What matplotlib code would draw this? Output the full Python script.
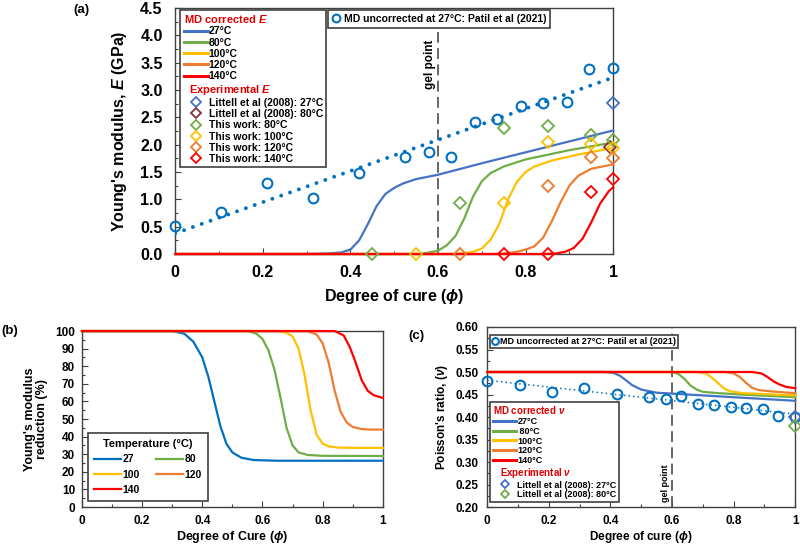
import numpy as np
import matplotlib
matplotlib.use('Agg')
import matplotlib.pyplot as plt
from matplotlib.lines import Line2D
from matplotlib.ticker import MultipleLocator, FormatStrFormatter, FuncFormatter

plt.rcParams['font.family'] = ['Liberation Sans', 'DejaVu Sans']
plt.rcParams['font.weight'] = 'bold'
plt.rcParams['axes.labelweight'] = 'bold'
plt.rcParams['mathtext.fontset'] = 'custom'
plt.rcParams['mathtext.rm'] = 'Liberation Sans:bold'
plt.rcParams['mathtext.it'] = 'Liberation Sans:italic:bold'
plt.rcParams['mathtext.bf'] = 'Liberation Sans:bold'
plt.rcParams['mathtext.bfit'] = 'Liberation Sans:italic:bold'

# ---- data ----
temps = ['27', '80', '100', '120', '140']
col_a = ['#4472C4', '#70AD47', '#FFC000', '#ED7D31', '#FF0000']
col_b = ['#0070C0', '#70AD47', '#FFC000', '#ED7D31', '#FF0000']
blue_md = '#0070C0'

# MD uncorrected (Patil et al 2021)
phi_md = [0, 0.105, 0.21, 0.315, 0.42, 0.525, 0.58, 0.63, 0.685, 0.735, 0.79, 0.84, 0.895, 0.945, 1.0]
E_md = [0.51, 0.77, 1.29, 1.02, 1.48, 1.77, 1.86, 1.77, 2.41, 2.47, 2.71, 2.77, 2.78, 3.39, 3.41]
nu_md = [0.480, 0.471, 0.455, 0.465, 0.452, 0.444, 0.440, 0.447, 0.429, 0.427, 0.422, 0.419, 0.418, 0.403, 0.399]

# MD corrected E curves (a)
phi_E27 = [0, 0.30, 0.35, 0.38, 0.40, 0.42, 0.44, 0.46, 0.48, 0.50, 0.52, 0.55, 0.60, 0.70, 0.80, 0.90, 1.0]
E27 = [0, 0, 0.01, 0.03, 0.08, 0.25, 0.55, 0.88, 1.10, 1.21, 1.29, 1.37, 1.45, 1.66, 1.86, 2.06, 2.26]
phi_E80 = [0, 0.56, 0.60, 0.62, 0.64, 0.66, 0.68, 0.70, 0.72, 0.75, 0.80, 0.90, 1.0]
E80 = [0, 0, 0.06, 0.16, 0.33, 0.65, 1.05, 1.33, 1.48, 1.60, 1.73, 1.90, 2.04]
phi_E100 = [0, 0.64, 0.68, 0.70, 0.72, 0.74, 0.76, 0.78, 0.80, 0.82, 0.86, 0.92, 1.0]
E100 = [0, 0, 0.04, 0.10, 0.26, 0.55, 1.00, 1.32, 1.50, 1.60, 1.71, 1.82, 1.94]
phi_E120 = [0, 0.74, 0.78, 0.80, 0.82, 0.84, 0.86, 0.88, 0.90, 0.92, 0.95, 1.0]
E120 = [0, 0, 0.04, 0.08, 0.14, 0.30, 0.60, 0.95, 1.25, 1.43, 1.56, 1.64]
phi_E140 = [0, 0.84, 0.87, 0.89, 0.91, 0.93, 0.95, 0.97, 0.99, 1.0]
E140 = [0, 0, 0.01, 0.04, 0.11, 0.28, 0.58, 0.92, 1.15, 1.22]

# experimental E
littell_phi = [1.0, 0.993]
littell_E = [2.77, 1.95]
phi_w80 = [0.45, 0.65, 0.75, 0.85, 0.95, 1.0]
E_w80 = [0, 0.93, 2.30, 2.35, 2.18, 2.09]
phi_w100 = [0.55, 0.75, 0.85, 0.95, 1.0]
E_w100 = [0, 0.93, 2.05, 2.01, 1.94]
phi_w120 = [0.65, 0.85, 0.95, 1.0]
E_w120 = [0, 1.24, 1.78, 1.76]
phi_w140 = [0.75, 0.85, 0.95, 1.0]
E_w140 = [0, 0, 1.14, 1.37]

# modulus reduction (b)
phi_R27 = [0, 0.30, 0.34, 0.37, 0.40, 0.42, 0.44, 0.46, 0.48, 0.50, 0.53, 0.57, 0.65, 1.0]
R27 = [100, 100, 98.5, 94, 85, 74, 60, 46, 36, 31, 28, 26.7, 26.3, 26.3]
phi_R80 = [0, 0.55, 0.58, 0.60, 0.62, 0.64, 0.66, 0.68, 0.70, 0.72, 0.75, 0.80, 1.0]
R80 = [100, 100, 98.5, 95.5, 89, 78, 62, 45, 35, 31, 29.6, 29.1, 29.0]
phi_R100 = [0, 0.65, 0.68, 0.70, 0.72, 0.74, 0.76, 0.78, 0.80, 0.82, 0.85, 0.90, 1.0]
R100 = [100, 100, 99, 97, 90, 75, 55, 41, 36, 34.5, 33.8, 33.6, 33.6]
phi_R120 = [0, 0.75, 0.78, 0.80, 0.82, 0.84, 0.86, 0.88, 0.90, 0.93, 0.96, 1.0]
R120 = [100, 100, 98, 93, 82, 66, 54, 48, 45.5, 44.3, 44.0, 44.0]
phi_R140 = [0, 0.84, 0.87, 0.89, 0.91, 0.93, 0.95, 0.97, 1.0]
R140 = [100, 100, 97.5, 91, 82, 72, 66, 63.5, 62]

# Poisson's ratio (c)
phi_n27 = [0, 0.38, 0.41, 0.43, 0.45, 0.47, 0.50, 0.55, 0.60, 0.70, 0.80, 0.90, 1.0]
n27 = [0.5, 0.5, 0.498, 0.492, 0.482, 0.471, 0.461, 0.454, 0.452, 0.448, 0.444, 0.440, 0.436]
phi_n80 = [0, 0.60, 0.62, 0.64, 0.66, 0.68, 0.70, 0.75, 0.85, 1.0]
n80 = [0.5, 0.5, 0.496, 0.485, 0.470, 0.461, 0.456, 0.453, 0.449, 0.444]
phi_n100 = [0, 0.68, 0.71, 0.73, 0.75, 0.77, 0.79, 0.83, 0.90, 1.0]
n100 = [0.5, 0.5, 0.497, 0.487, 0.475, 0.463, 0.457, 0.453, 0.451, 0.448]
phi_n120 = [0, 0.77, 0.80, 0.82, 0.84, 0.86, 0.88, 0.92, 1.0]
n120 = [0.5, 0.5, 0.497, 0.489, 0.476, 0.465, 0.460, 0.457, 0.453]
phi_n140 = [0, 0.86, 0.89, 0.91, 0.93, 0.95, 0.97, 1.0]
n140 = [0.5, 0.5, 0.497, 0.489, 0.479, 0.472, 0.467, 0.464]
littell_nu = [0.399, 0.38]

E_curves = [(phi_E27, E27), (phi_E80, E80), (phi_E100, E100), (phi_E120, E120), (phi_E140, E140)]
R_curves = [(phi_R27, R27), (phi_R80, R80), (phi_R100, R100), (phi_R120, R120), (phi_R140, R140)]
n_curves = [(phi_n27, n27), (phi_n80, n80), (phi_n100, n100), (phi_n120, n120), (phi_n140, n140)]

spine_c = '#404040'
gel_c = '#595959'


def style_axes(ax, fs):
    for s in ax.spines.values():
        s.set_color(spine_c)
        s.set_linewidth(1.0)
    ax.tick_params(which='both', direction='in', color=spine_c, width=0.8,
                   labelsize=fs)
    ax.tick_params(which='major', length=4)
    ax.tick_params(which='minor', length=2.5)
    ax.xaxis.set_major_locator(MultipleLocator(0.2))
    ax.xaxis.set_minor_locator(MultipleLocator(0.1))
    ax.xaxis.set_major_formatter(FuncFormatter(lambda v, p: '%g' % round(v, 2)))
    ax.set_xlim(0, 1)


fig = plt.figure(figsize=(8, 5.46), dpi=100)

# ================= (a) =================
ax = fig.add_axes([0.219, 0.5348, 0.5475, 0.4505])
style_axes(ax, 11.5)
ax.tick_params(axis='x', pad=8)
ax.tick_params(axis='y', pad=9)
ax.set_ylim(0, 4.5)
ax.yaxis.set_major_locator(MultipleLocator(0.5))
ax.yaxis.set_minor_locator(MultipleLocator(0.25))
ax.yaxis.set_major_formatter(FormatStrFormatter('%.1f'))

fit = np.polyfit(phi_md, E_md, 1)
xf = np.array([0, 1.0])
ax.plot(xf, np.polyval(fit, xf), ls=(0, (0.01, 2.4)), lw=2.8, color=blue_md,
        dash_capstyle='round', zorder=3)
ax.axvline(0.6, color=gel_c, ls=(0, (6, 3)), lw=1.3, zorder=2)
ax.text(0.582, 3.47, 'gel point', rotation=90, ha='center', va='center', fontsize=8.5)

line_h = []
for (px, py), c, t in zip(E_curves, col_a, temps):
    ax.plot(px, py, color=c, lw=1.6, zorder=4, clip_on=False)
    line_h.append(Line2D([], [], color=c, lw=2.2, label=t + '°C'))

md_h, = ax.plot(phi_md, E_md, 'o', ms=7, mfc='none', mec=blue_md, mew=1.5,
                zorder=6, clip_on=False, label='MD uncorrected at 27°C: Patil et al (2021)')

dk = dict(marker='D', ms=6, mfc='none', mew=1.3, ls='none', zorder=7, clip_on=False)
h1, = ax.plot(littell_phi[:1], littell_E[:1], mec='#4472C4', label='Littell et al (2008): 27°C', **dk)
h2, = ax.plot(littell_phi[1:], littell_E[1:], mec='#8B2F3A', label='Littell et al (2008): 80°C', **dk)
h3, = ax.plot(phi_w80, E_w80, mec='#70AD47', label='This work: 80°C', **dk)
h4, = ax.plot(phi_w100, E_w100, mec='#FFC000', label='This work: 100°C', **dk)
h5, = ax.plot(phi_w120, E_w120, mec='#ED7D31', label='This work: 120°C', **dk)
h6, = ax.plot(phi_w140, E_w140, mec='#FF0000', label='This work: 140°C', **dk)

blank = Line2D([], [], ls='none', label='Experimental $\\mathbfit{E}$')
leg = ax.legend(handles=line_h + [blank, h1, h2, h3, h4, h5, h6],
                title='MD corrected $\\mathbfit{E}$', title_fontsize=8,
                loc='upper left', bbox_to_anchor=(0.012, 0.992), borderaxespad=0,
                fontsize=7.5, handlelength=2.3, handletextpad=0.1, labelspacing=0.12,
                borderpad=0.3, frameon=True, fancybox=False, edgecolor=spine_c,
                framealpha=1, markerscale=0.8)
leg.get_frame().set_linewidth(1.2)
leg.get_title().set_color('#E00000')
leg._legend_box.align = 'left'
tx = leg.get_texts()[5]
tx.set_color('#E00000')
tx.set_fontsize(8)
tx.set_x(-20)
ax.add_artist(leg)

leg2 = ax.legend(handles=[md_h], loc='upper left', bbox_to_anchor=(0.349, 0.994),
                 borderaxespad=0, fontsize=7.5, handlelength=0.8, handletextpad=0.3,
                 borderpad=0.4, fancybox=False, edgecolor=spine_c, framealpha=1,
                 markerscale=0.8)
leg2.get_frame().set_linewidth(1.2)

ax.set_ylabel("Young's modulus, $\\mathbfit{E}$ (GPa)", fontsize=11.5, labelpad=8)
ax.set_xlabel('Degree of cure ($\\phi$)', fontsize=11.5, labelpad=5)
fig.text(0.092, 0.992, '(a)', fontsize=9.5, ha='left', va='top')

# ================= (b) =================
bx = fig.add_axes([0.1025, 0.0714, 0.376, 0.3223])
style_axes(bx, 8.5)
bx.set_ylim(0, 100)
bx.yaxis.set_major_locator(MultipleLocator(10))
bx.yaxis.set_minor_locator(MultipleLocator(5))
bx.tick_params(axis='x', pad=6)
bx.tick_params(axis='y', pad=5)
rh = []
for (px, py), c, t in zip(R_curves, col_b, temps):
    l, = bx.plot(px, py, color=c, lw=1.6, label=t, clip_on=False, zorder=3)
    rh.append(l)
legb = bx.legend(handles=[rh[0], rh[2], rh[4], rh[1], rh[3]], ncol=2,
                 title='Temperature (°C)', title_fontsize=8, fontsize=7.5,
                 loc='lower left', bbox_to_anchor=(0.02, 0.034), borderaxespad=0,
                 handlelength=2.6, handletextpad=0.1, columnspacing=1.6,
                 labelspacing=0.5, borderpad=0.6, fancybox=False,
                 edgecolor=spine_c, framealpha=1)
legb.get_frame().set_linewidth(1.2)
bx.set_ylabel("Young's modulus\nreduction (%)", fontsize=9, labelpad=5, linespacing=1.0)
bx.set_xlabel('Degree of Cure ($\\phi$)', fontsize=9, labelpad=1)
fig.text(0.002, 0.405, '(b)', fontsize=9.5, ha='left', va='top')

# ================= (c) =================
cx = fig.add_axes([0.609, 0.0714, 0.385, 0.3297])
style_axes(cx, 8.5)
cx.set_ylim(0.2, 0.6)
cx.yaxis.set_major_locator(MultipleLocator(0.05))
cx.yaxis.set_minor_locator(MultipleLocator(0.025))
cx.yaxis.set_major_formatter(FormatStrFormatter('%.2f'))
cx.tick_params(axis='x', pad=6)
cx.tick_params(axis='y', pad=6)

fit2 = np.polyfit(phi_md, nu_md, 1)
cx.plot(xf, np.polyval(fit2, xf), ls=(0, (1, 2)), lw=1.1, color=blue_md, zorder=3)
cx.axvline(0.6, color=gel_c, ls=(0, (6, 3)), lw=1.3, zorder=2)
cx.text(0.578, 0.252, 'gel point', rotation=90, ha='center', va='center', fontsize=6.5)

nh = []
for (px, py), c, t in zip(n_curves, col_a, temps):
    cx.plot(px, py, color=c, lw=1.6, zorder=4, clip_on=False)
    nh.append(Line2D([], [], color=c, lw=2.2, label=(t if len(t) == 3 else ' ' + t) + '°C'))
nh[0].set_label('27°C')
md2, = cx.plot(phi_md, nu_md, 'o', ms=7, mfc='none', mec=blue_md, mew=1.5,
               zorder=6, clip_on=False, label='MD uncorrected at 27°C: Patil et al (2021)')
g1, = cx.plot([1.0], littell_nu[:1], mec='#4472C4', label='Littell et al (2008): 27°C', **dk)
g2, = cx.plot([1.0], littell_nu[1:], mec='#70AD47', label='Littell et al (2008): 80°C', **dk)

blank2 = Line2D([], [], ls='none', label='Experimental $\\nu$')
legc = cx.legend(handles=nh + [blank2, g1, g2], title='MD corrected $\\nu$',
                 title_fontsize=7, fontsize=6.5, loc='lower left',
                 bbox_to_anchor=(0.01, 0.028), borderaxespad=0, handlelength=2.6,
                 handletextpad=0.1, labelspacing=0.08, borderpad=0.3,
                 fancybox=False, edgecolor=spine_c, framealpha=1, markerscale=0.7)
legc.get_frame().set_linewidth(1.2)
legc.get_title().set_color('#E00000')
legc._legend_box.align = 'left'
tc = legc.get_texts()[5]
tc.set_color('#E00000')
tc.set_fontsize(7)
tc.set_x(-17)
cx.add_artist(legc)

legc2 = cx.legend(handles=[md2], loc='upper left', bbox_to_anchor=(0.01, 0.956),
                  borderaxespad=0, fontsize=6.5, handlelength=0.6, handletextpad=0.2,
                  borderpad=0.25, fancybox=False, edgecolor=spine_c, framealpha=1,
                  markerscale=0.7)
legc2.get_frame().set_linewidth(1.2)

cx.set_ylabel("Poisson's ratio, ($\\nu$)", fontsize=8.5, labelpad=4)
cx.set_xlabel('Degree of cure ($\\phi$)', fontsize=8.5, labelpad=1)
fig.text(0.51, 0.395, '(c)', fontsize=9.5, ha='left', va='top')

plt.savefig('out.png', dpi=100)
